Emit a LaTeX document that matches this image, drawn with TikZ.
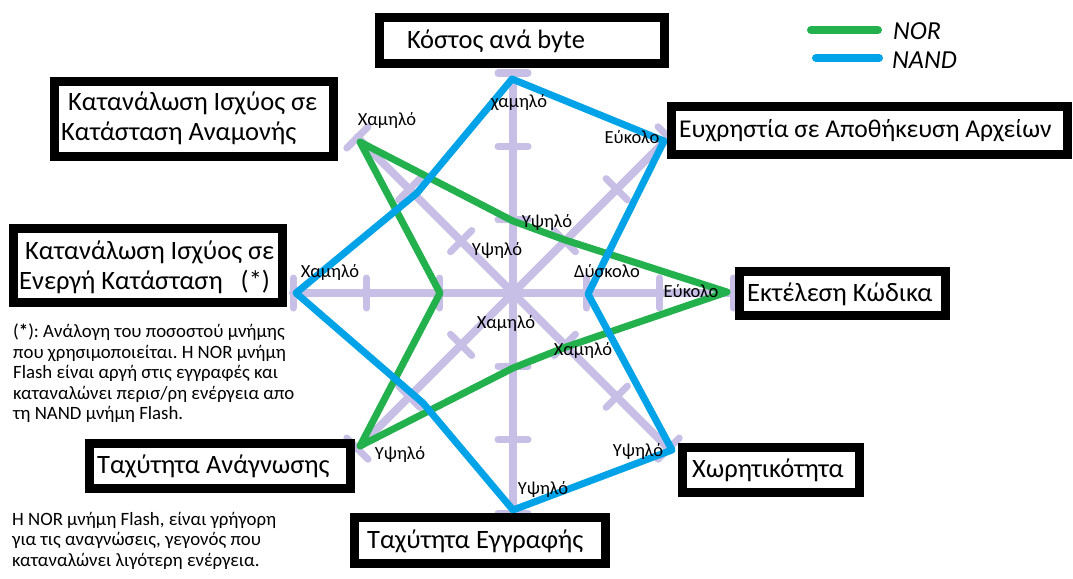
\documentclass[tikz,border=0pt]{standalone}
\usepackage{fontspec}
\setmainfont{Carlito}
\usetikzlibrary{calc}
\definecolor{norgreen}{HTML}{22B14C}
\definecolor{nandblue}{HTML}{00A2E8}
\definecolor{axislav}{HTML}{C8BFE7}
\frenchspacing

\begin{document}
\begin{tikzpicture}[x=1pt,y=-1pt,
  axis/.style={axislav, line width=8pt, line cap=round},
  tickbar/.style={axislav, line width=7pt, line cap=round},
  norline/.style={norgreen, line width=7pt, line cap=round, line join=round},
  nandline/.style={nandblue, line width=7pt, line cap=round, line join=round},
  box/.style={draw=black, line width=9pt, fill=white, inner sep=0pt},
  boxtext/.style={font=\fontsize{26.5}{30}\selectfont, inner sep=0pt, anchor=west, align=left},
  val/.style={font=\fontsize{18.5}{20}\selectfont, inner sep=0pt},
  note/.style={font=\fontsize{18.8}{20.5}\selectfont, inner sep=0pt, anchor=north west, align=left},
  legendtext/.style={font=\fontsize{26}{28}\selectfont\itshape, inner sep=0pt, anchor=west}]

\useasboundingbox (0,0) rectangle (1073,578);

% centre and ends of the eight axes
\coordinate (C) at (513,293);
\coordinate (eT) at (513,73);
\coordinate (eUR) at (668.6,137.4);
\coordinate (eR) at (733,293);
\coordinate (eLR) at (668.6,448.6);
\coordinate (eB) at (513,513);
\coordinate (eLL) at (357.4,448.6);
\coordinate (eL) at (293,293);
\coordinate (eUL) at (357.4,137.4);

% axes with cross bars at 1/3, 2/3 and the end
\foreach \e in {eT,eUR,eR,eLR,eB,eLL,eL,eUL} {
  \draw[axis] (C) -- (\e);
  \foreach \t in {0.3333,0.6667,1} {
    \coordinate (tk) at ($(C)!\t!(\e)$);
    \draw[tickbar] ($(tk)!15pt!90:(C)$) -- ($(tk)!15pt!-90:(C)$);
  }
}

% NOR profile
\coordinate (n1) at (513,221);
\coordinate (n2) at (565,240);
\coordinate (n3) at (727,292);
\coordinate (n4) at (566,347);
\coordinate (n5) at (513,368);
\coordinate (n6) at (360,446);
\coordinate (n7) at (440,293);
\coordinate (n8) at (360,142);
\draw[norline] (n1) -- (n2) -- (n3) -- (n4) -- (n5) -- (n6) -- (n7) -- (n8) -- cycle;

% NAND profile
\coordinate (b1) at (512,79);
\coordinate (b2) at (664,141);
\coordinate (b3) at (588,294);
\coordinate (b4) at (672,450);
\coordinate (b5) at (513,510);
\coordinate (b6) at (423,403);
\coordinate (b7) at (296,293);
\coordinate (b8) at (417,193);
\draw[nandline] (b1) -- (b2) -- (b3) -- (b4) -- (b5) -- (b6) -- (b7) -- (b8) -- cycle;

% category boxes
\node[box, minimum width=285pt, minimum height=46pt] (costbox) at (522,40.5) {};
\node[boxtext] (costtxt) at (407,41) {Κόστος ανά byte};

\node[box, minimum width=279pt, minimum height=75pt] (standbybox) at (194,119) {};
\node[boxtext] (standbytxt) at (61,118) {\hspace*{7pt}Κατανάλωση Ισχύος σε\\Κατάσταση Αναμονής};

\node[box, minimum width=269pt, minimum height=74pt] (activebox) at (148,265.5) {};
\node[boxtext] (activetxt) at (19,267) {\hspace*{6pt}Κατανάλωση Ισχύος σε\\Ενεργή Κατάσταση\ \ \ (*)};

\node[box, minimum width=396pt, minimum height=48pt] (filebox) at (869.5,130.5) {};
\node[boxtext, font=\fontsize{25.6}{30}\selectfont] (filetxt) at (679,131) {Ευχρηστία σε Αποθήκευση Αρχείων};

\node[box, minimum width=206pt, minimum height=44pt] (execbox) at (842.5,293.5) {};
\node[boxtext] (exectxt) at (747,294) {Εκτέλεση Κώδικα};

\node[box, minimum width=261pt, minimum height=45pt] (readbox) at (220,466) {};
\node[boxtext] (readtxt) at (97,466) {Ταχύτητα Ανάγνωσης};

\node[box, minimum width=177pt, minimum height=45pt] (capbox) at (771,470) {};
\node[boxtext] (captxt) at (692,470) {Χωρητικότητα};

\node[box, minimum width=251pt, minimum height=46pt] (writebox) at (480,540.5) {};
\node[boxtext] (writetxt) at (367,541) {Ταχύτητα Εγγραφής};

% value labels along the axes
\node[val] (l1) at (519,103) {χαμηλό};
\node[val] (l2) at (632,137) {Εύκολο};
\node[val] (l3) at (387,120) {Χαμηλό};
\node[val] (l4) at (547,222) {Υψηλό};
\node[val] (l5) at (497,250) {Υψηλό};
\node[val] (l6) at (607,271) {Δύσκολο};
\node[val] (l7) at (330,272) {Χαμηλό};
\node[val] (l8) at (691,291) {Εύκολο};
\node[val] (l9) at (506,323) {Χαμηλό};
\node[val] (l10) at (583,350) {Χαμηλό};
\node[val] (l11) at (400,454) {Υψηλό};
\node[val] (l12) at (638,451) {Υψηλό};
\node[val] (l13) at (543,489) {Υψηλό};

% notes
\node[note] (note1) at (13,324) {(\textbf{*}): Ανάλογη του ποσοστού μνήμης\\που χρησιμοποιείται. Η NOR μνήμη\\Flash είναι αργή στις εγγραφές και\\καταναλώνει περισ/ρη ενέργεια απο\\τη NAND μνήμη Flash.};
\node[note] (note2) at (12,512) {Η NOR μνήμη Flash, είναι γρήγορη\\για τις αναγνώσεις, γεγονός που\\καταναλώνει λιγότερη ενέργεια.};

% legend
\coordinate (gA) at (811,30);
\coordinate (gB) at (878,30);
\coordinate (bA) at (816,58);
\coordinate (bB) at (879,58);
\draw[norline, line width=8pt] (gA) -- (gB);
\draw[nandline, line width=8pt] (bA) -- (bB);
\node[legendtext] (norlbl) at (893,31) {NOR};
\node[legendtext] (nandlbl) at (892,60) {NAND};
\end{tikzpicture}
\end{document}
